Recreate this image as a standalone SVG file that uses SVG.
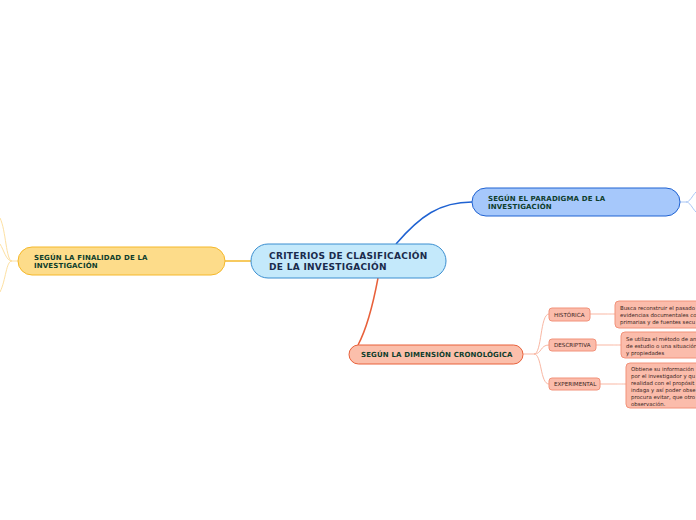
<svg xmlns="http://www.w3.org/2000/svg" width="696" height="520" viewBox="0 0 696 520">
<style>
text{font-family:"DejaVu Sans",Verdana,sans-serif}
.main{font-size:9px;font-weight:bold;fill:#1a2b4c;letter-spacing:0.3px}
.t1{font-size:7px;font-weight:bold;fill:#0e3d2c;letter-spacing:0.15px}
.sub{font-size:5.6px;fill:#3a2522}
.desc{font-size:5.4px;fill:#3a2522}
.sn{fill:#fbbcab;stroke:#f2927a;stroke-width:1}
.thin{fill:none;stroke-width:1}
</style>
<rect width="696" height="520" fill="#ffffff"/>
<g id="connectors" fill="none">
<path d="M396,244 C420,216 440,202 472,202" stroke="#1f62d2" stroke-width="1.5"/>
<path d="M251,261 L225,261" stroke="#f5b82a" stroke-width="1.5"/>
<path d="M378,278 C372,310 366,330 358,345" stroke="#e8603a" stroke-width="1.5"/>
<path d="M680,202 L686,202 C690,202 692,196 696,192 M686,202 C690,202 692,208 696,212" stroke="#a9c6f5" class="thin"/>
<path d="M18,261 L12,261 C6,261 6,230 0,218 M12,261 C6,261 4,250 0,244 M12,261 C6,261 6,280 0,292" stroke="#fde0a2" class="thin"/>
<path d="M523,354 L534,354 C542,354 540,314 549,314 M534,354 C542,354 540,345 549,345 M534,354 C542,354 540,384 549,384" stroke="#f9b7a3" class="thin"/>
<path d="M590,314 L604,314 C610,314 608,314 615,314" stroke="#f9b7a3" class="thin"/>
<path d="M596,345 L610,345 C616,345 614,345 621,345" stroke="#f9b7a3" class="thin"/>
<path d="M600,384 L614,384 C620,384 618,384 626,384" stroke="#f9b7a3" class="thin"/>
</g>
<g id="central">
<rect x="251" y="244" width="195" height="34" rx="17" fill="#c4e9fb" stroke="#3a8ed0" stroke-width="1"/>
<text class="main" x="269" y="259">CRITERIOS DE CLASIFICACIÓN</text>
<text class="main" x="269" y="270">DE LA INVESTIGACIÓN</text>
</g>
<g id="paradigma">
<rect x="472" y="188" width="208" height="28" rx="14" fill="#a6c8fb" stroke="#1f62d2" stroke-width="1"/>
<text class="t1" x="488" y="201">SEGÚN EL PARADIGMA DE LA</text>
<text class="t1" x="488" y="209">INVESTIGACIÓN</text>
</g>
<g id="finalidad">
<rect x="18" y="247" width="207" height="28" rx="14" fill="#fddc8a" stroke="#f5b82a" stroke-width="1"/>
<text class="t1" x="34" y="260">SEGÚN LA FINALIDAD DE LA</text>
<text class="t1" x="34" y="268">INVESTIGACIÓN</text>
</g>
<g id="cronologica">
<rect x="349" y="345" width="174" height="19" rx="9.5" fill="#fbbfab" stroke="#e8603a" stroke-width="1"/>
<text class="t1" x="361" y="357">SEGÚN LA DIMENSIÓN CRONOLÓGICA</text>
</g>
<g id="historica">
<rect class="sn" x="549" y="308" width="41" height="13" rx="3"/>
<text class="sub" x="554" y="316.5">HISTÓRICA</text>
</g>
<g id="descriptiva">
<rect class="sn" x="549" y="339" width="47" height="12" rx="3"/>
<text class="sub" x="554" y="347">DESCRIPTIVA</text>
</g>
<g id="experimental">
<rect class="sn" x="549" y="378" width="51" height="12" rx="3"/>
<text class="sub" x="554" y="386">EXPERIMENTAL</text>
</g>
<g id="desc-historica">
<rect class="sn" x="615" y="301" width="100" height="27" rx="4"/>
<text class="desc" x="620" y="310">Busca reconstruir el pasado</text>
<text class="desc" x="620" y="317">evidencias documentales co</text>
<text class="desc" x="620" y="324">primarias y de fuentes secu</text>
</g>
<g id="desc-descriptiva">
<rect class="sn" x="621" y="332" width="100" height="26" rx="4"/>
<text class="desc" x="626" y="341">Se utiliza el método de an</text>
<text class="desc" x="626" y="348">de estudio o una situación</text>
<text class="desc" x="626" y="355">y propiedades</text>
</g>
<g id="desc-experimental">
<rect class="sn" x="626" y="363" width="100" height="45" rx="4"/>
<text class="desc" x="631" y="371">Obtiene su información</text>
<text class="desc" x="631" y="378">por el investigador y qu</text>
<text class="desc" x="631" y="385">realidad con el propósit</text>
<text class="desc" x="631" y="392">indaga y así poder obse</text>
<text class="desc" x="631" y="399">procura evitar, que otro</text>
<text class="desc" x="631" y="406">observación.</text>
</g>
</svg>
